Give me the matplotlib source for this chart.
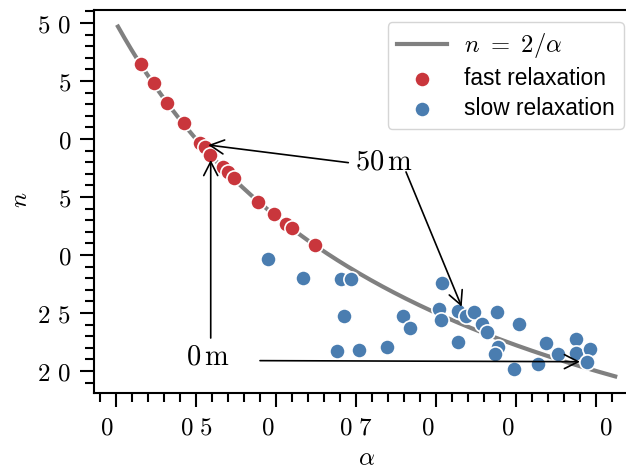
import numpy as np
import matplotlib
matplotlib.use("Agg")
import matplotlib.pyplot as plt
from matplotlib.ticker import FixedLocator, FixedFormatter, MultipleLocator
from matplotlib.transforms import ScaledTranslation

plt.rcParams['mathtext.fontset'] = 'cm'
plt.rcParams['font.family'] = ['Liberation Sans', 'DejaVu Sans']

# data
fast_alpha = [0.431, 0.447, 0.464, 0.485, 0.505, 0.511, 0.518, 0.534, 0.540, 0.547,
              0.578, 0.597, 0.613, 0.620, 0.649]
fast_n = [4.644, 4.480, 4.313, 4.135, 3.968, 3.928, 3.859, 3.756, 3.718, 3.661,
          3.459, 3.353, 3.265, 3.230, 3.086]

slow_alpha = [0.590, 0.634, 0.681, 0.694, 0.685, 0.676, 0.704, 0.739, 0.759, 0.767,
              0.808, 0.804, 0.806, 0.828, 0.827, 0.838, 0.848, 0.857, 0.864, 0.876,
              0.878, 0.874, 0.904, 0.898, 0.927, 0.938, 0.952, 0.975, 0.975, 0.993, 0.989]
slow_n = [2.966, 2.799, 2.793, 2.793, 2.477, 2.175, 2.181, 2.209, 2.474, 2.368,
          2.761, 2.537, 2.440, 2.247, 2.517, 2.477, 2.511, 2.405, 2.334, 2.506,
          2.209, 2.147, 2.405, 2.015, 2.058, 2.239, 2.147, 2.276, 2.153, 2.187, 2.080]

# n = 2/alpha guide line
alpha_line = np.linspace(0.4025, 1.024, 300)
n_line = 2 / alpha_line

# tick values and the labels as they appear
x_ticks = [0.4, 0.5, 0.6, 0.7, 0.8, 0.9, 1.0]
x_labels = [r'$0$', r'$0\hspace{0.32}5$', r'$0$', r'$0\hspace{0.32}7$', r'$0$', r'$0$', r'$0$']
x_label_shift = [-9, 0, -8, 0, -8, -8, 10]   # px, visible digit sits off-centre
y_ticks = [2.0, 2.5, 3.0, 3.5, 4.0, 4.5, 5.0]
y_labels = [r'$2\hspace{0.38}0$', r'$2\hspace{0.38}5$', r'$0$', r'$5$', r'$0$', r'$5$',
            r'$5\hspace{0.38}0$']

# annotations (text position, arrow start, arrow end)
ann_50m = (0.735, 3.793)
ann_0m = (0.515, 2.112)
arrows = [((0.6904, 3.796), (0.5154, 3.948)),
          ((0.7625, 3.716), (0.8321, 2.554)),
          ((0.5184, 2.284), (0.5184, 3.819)),
          ((0.580, 2.089), (0.980, 2.080))]

red = '#c9363c'
blue = '#4a7db0'

fig = plt.figure(figsize=(6.26, 4.72), dpi=100)
ax = fig.add_axes([93.6 / 626, 79 / 472, 546.4 / 626, 383 / 472])

ax.plot(alpha_line, n_line, color='gray', lw=3, label=r'$n\ =\ 2/\alpha$', zorder=2)
ax.scatter(fast_alpha, fast_n, s=120, color=red, edgecolor='white', linewidth=1.2,
           label='fast relaxation', zorder=3)
ax.scatter(slow_alpha, slow_n, s=120, color=blue, edgecolor='white', linewidth=1.2,
           label='slow relaxation', zorder=3)

for start, end in arrows:
    ax.annotate('', xy=end, xytext=start,
                arrowprops=dict(arrowstyle='->, head_length=0.55, head_width=0.28',
                                color='black', lw=1.2, shrinkA=0, shrinkB=0),
                fontsize=18, zorder=4)
ax.text(*ann_50m, r'$50\,\mathrm{m}$', fontsize=20.5, ha='center', va='center')
ax.text(*ann_0m, r'$0\,\mathrm{m}$', fontsize=20.5, ha='center', va='center')

ax.set_xlim(0.372, 1.055)
ax.set_ylim(1.81, 5.112)

ax.xaxis.set_major_locator(FixedLocator(x_ticks))
ax.xaxis.set_major_formatter(FixedFormatter(x_labels))
ax.xaxis.set_minor_locator(MultipleLocator(0.02))
ax.yaxis.set_major_locator(FixedLocator(y_ticks))
ax.yaxis.set_major_formatter(FixedFormatter(y_labels))
ax.yaxis.set_minor_locator(MultipleLocator(0.1))

ax.tick_params(which='major', direction='out', length=10, width=1.5, labelsize=18, pad=6)
ax.tick_params(which='minor', direction='out', length=6.5, width=1.5)
for sp in ax.spines.values():
    sp.set_linewidth(1.5)

for tick, dx in zip(ax.xaxis.get_major_ticks(), x_label_shift):
    lab = tick.label1
    lab.set_transform(lab.get_transform() + ScaledTranslation(dx / 100, 0, fig.dpi_scale_trans))

ax.set_xlabel(r'$\alpha$', fontsize=18)
ax.set_ylabel(r'$n$', fontsize=18)
ax.xaxis.set_label_coords(0.5, (393 - 458) / 383)
ax.xaxis.label.set_va('center')
ax.yaxis.set_label_coords((20 - 93.6) / 546.4, (393 - 200) / 383)
ax.yaxis.label.set_va('center')

leg = ax.legend(loc='upper right', bbox_to_anchor=(624 / 626, 1 - 22 / 472),
                bbox_transform=fig.transFigure, borderaxespad=0, fontsize=16.4,
                labelspacing=0.3, handlelength=2.2, handletextpad=0.75,
                fancybox=True, framealpha=1, edgecolor='#d5d5d5')
leg.get_texts()[0].set_fontsize(17.7)

fig.savefig('out.png', dpi=100)
